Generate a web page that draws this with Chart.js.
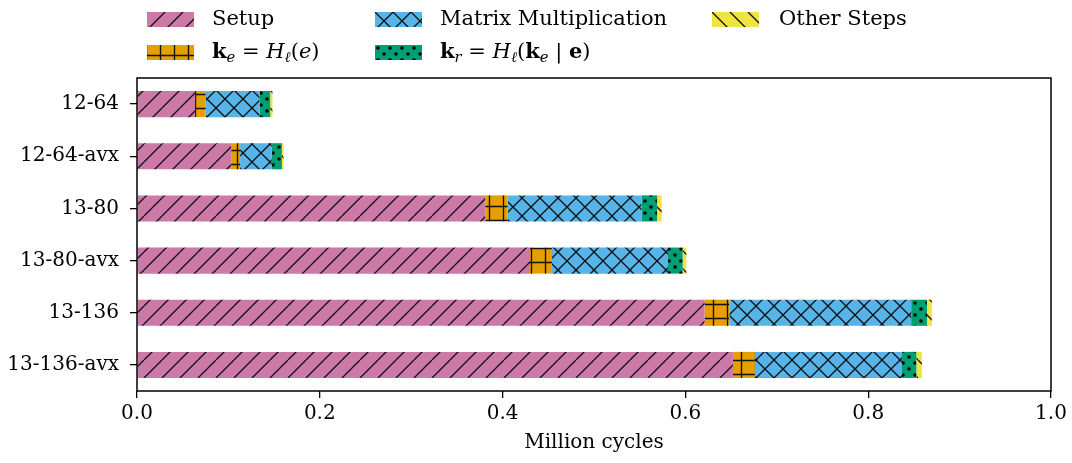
<!DOCTYPE html>
<html><head><meta charset="utf-8">
<script src="https://cdn.jsdelivr.net/npm/chart.js@4.4.1/dist/chart.umd.min.js"></script>
<style>
html,body{margin:0;padding:0;background:#fff;}
#wrap{position:relative;width:1072px;height:463px;overflow:hidden;}
#c{position:absolute;left:0;top:0;}
.lt{position:absolute;font-family:"DejaVu Serif",serif;font-size:21px;color:#000;white-space:nowrap;line-height:24px;height:24px;}
.lt sub{font-size:0.7em;vertical-align:-0.3em;line-height:0;}
.sw{position:absolute;}
</style></head><body>
<div id="wrap"><canvas id="c" width="1072" height="463"></canvas><div id="legend"></div></div>
<script>
// ---- data ----
const categories = ["12-64", "12-64-avx", "13-80", "13-80-avx", "13-136", "13-136-avx"];
const setup  = [0.0635, 0.103, 0.381, 0.430, 0.621, 0.652];
const keHash = [0.0117, 0.0098, 0.0246, 0.024, 0.027, 0.024];
const matMul = [0.0588, 0.0347, 0.1464, 0.127, 0.199, 0.161];
const krHash = [0.0117, 0.011, 0.017, 0.016, 0.0173, 0.0157];
const other  = [0.0025, 0.0018, 0.005, 0.004, 0.0053, 0.006];
const xTicks = [0.0, 0.2, 0.4, 0.6, 0.8, 1.0];
const xTitle = "Million cycles";
const seriesLabels = [
  "Setup",
  "<b>k</b><sub><i>e</i></sub> = <i>H</i><sub><i>ℓ</i></sub>(<i>e</i>)",
  "Matrix Multiplication",
  "<b>k</b><sub><i>r</i></sub> = <i>H</i><sub><i>ℓ</i></sub>(<b>k</b><sub><i>e</i></sub> | <b>e</b>)",
  "Other Steps"
];
const seriesValues = [setup, keHash, matMul, krHash, other];
const seriesColors = ["#CC79A7", "#E69F00", "#56B4E9", "#009E73", "#F0E442"];
const seriesHatch = ["/", "+", "x", ".", "\\"];

// ---- hatch patterns ----
function hatchTile(color, kind) {
  const P = {"/":18, "x":18, "\\":18, "+":14, ".":12}[kind];
  const c = document.createElement('canvas'); c.width = P; c.height = P;
  const g = c.getContext('2d');
  g.fillStyle = color; g.fillRect(0, 0, P, P);
  g.strokeStyle = '#111'; g.lineWidth = 1.35; g.fillStyle = '#000';
  g.beginPath();
  if (kind === '/' || kind === 'x') { for (let k = -1; k <= 1; k++) { g.moveTo(k*P, P); g.lineTo(k*P + P, 0); } }
  if (kind === '\\' || kind === 'x') { for (let k = -1; k <= 1; k++) { g.moveTo(k*P, 0); g.lineTo(k*P + P, P); } }
  if (kind === '+') { g.moveTo(13.5, 0); g.lineTo(13.5, P); g.moveTo(-0.5, 0); g.lineTo(-0.5, P); g.moveTo(0, 10.5); g.lineTo(P, 10.5); }
  g.stroke();
  if (kind === '.') {
    [[3, 3], [9, 9]].forEach(([x, y]) => { g.beginPath(); g.arc(x, y, 1.8, 0, Math.PI*2); g.fill(); });
  }
  return c;
}
const mainCtx = document.getElementById('c').getContext('2d');
const patterns = seriesColors.map((col, i) => mainCtx.createPattern(hatchTile(col, seriesHatch[i]), 'repeat'));

// ---- legend (HTML) ----
const legendPos = [
  {sx:147, tx:212, y:12}, {sx:147, tx:212, y:45},
  {sx:375, tx:440, y:12}, {sx:375, tx:440, y:45},
  {sx:712, tx:779, y:12}
];
const legEl = document.getElementById('legend');
seriesLabels.forEach((lab, i) => {
  const p = legendPos[i];
  const sw = document.createElement('canvas');
  sw.width = 47; sw.height = 15; sw.className = 'sw';
  sw.style.left = p.sx + 'px'; sw.style.top = p.y + 'px';
  const sg = sw.getContext('2d');
  sg.fillStyle = sg.createPattern(hatchTile(seriesColors[i], seriesHatch[i]), 'repeat');
  sg.fillRect(0, 0, 47, 15);
  legEl.appendChild(sw);
  const t = document.createElement('div');
  t.className = 'lt'; t.innerHTML = lab;
  t.style.left = p.tx + 'px'; t.style.top = (p.y + 7.5 - 13.5) + 'px';
  legEl.appendChild(t);
});

// ---- chart ----
const font = {family: "'DejaVu Serif', serif", size: 20};
const frame = {
  id: 'frame',
  afterDraw(chart) {
    const a = chart.chartArea, g = chart.ctx;
    g.save(); g.strokeStyle = '#000'; g.lineWidth = 1.5;
    g.strokeRect(a.left, a.top, a.right - a.left, a.bottom - a.top);
    g.restore();
  }
};
new Chart(document.getElementById('c'), {
  type: 'bar',
  data: {
    labels: categories,
    datasets: seriesValues.map((vals, i) => ({
      label: seriesLabels[i].replace(/<[^>]+>/g, ''),
      data: vals,
      backgroundColor: patterns[i],
      borderWidth: 0,
      barPercentage: 0.5,
      categoryPercentage: 1.0
    }))
  },
  options: {
    indexAxis: 'y',
    responsive: false,
    animation: false,
    devicePixelRatio: 1,
    layout: {padding: {top: 78, right: 21, left: 0, bottom: 0}},
    plugins: {legend: {display: false}, tooltip: {enabled: false}},
    scales: {
      x: {
        stacked: true, min: 0, max: 1,
        afterBuildTicks(s) { s.ticks = xTicks.map(v => ({value: v})); },
        ticks: {font, color: '#000', padding: 4, maxRotation: 0, autoSkip: false,
                callback: v => Number(v).toFixed(1)},
        grid: {drawOnChartArea: false, drawTicks: true, tickLength: 7, color: '#000', lineWidth: 1.3},
        border: {display: false},
        title: {display: true, text: xTitle, font, color: '#000', padding: {top: 0, bottom: 8}},
        afterFit(s) { s.height = 72; }
      },
      y: {
        stacked: true,
        ticks: {font, color: '#000', padding: 11},
        grid: {drawOnChartArea: false, drawTicks: true, tickLength: 7, color: '#000', lineWidth: 1.3, offset: false},
        border: {display: false},
        afterFit(s) { s.width = 137; }
      }
    }
  },
  plugins: [frame]
});
</script>
</body></html>
